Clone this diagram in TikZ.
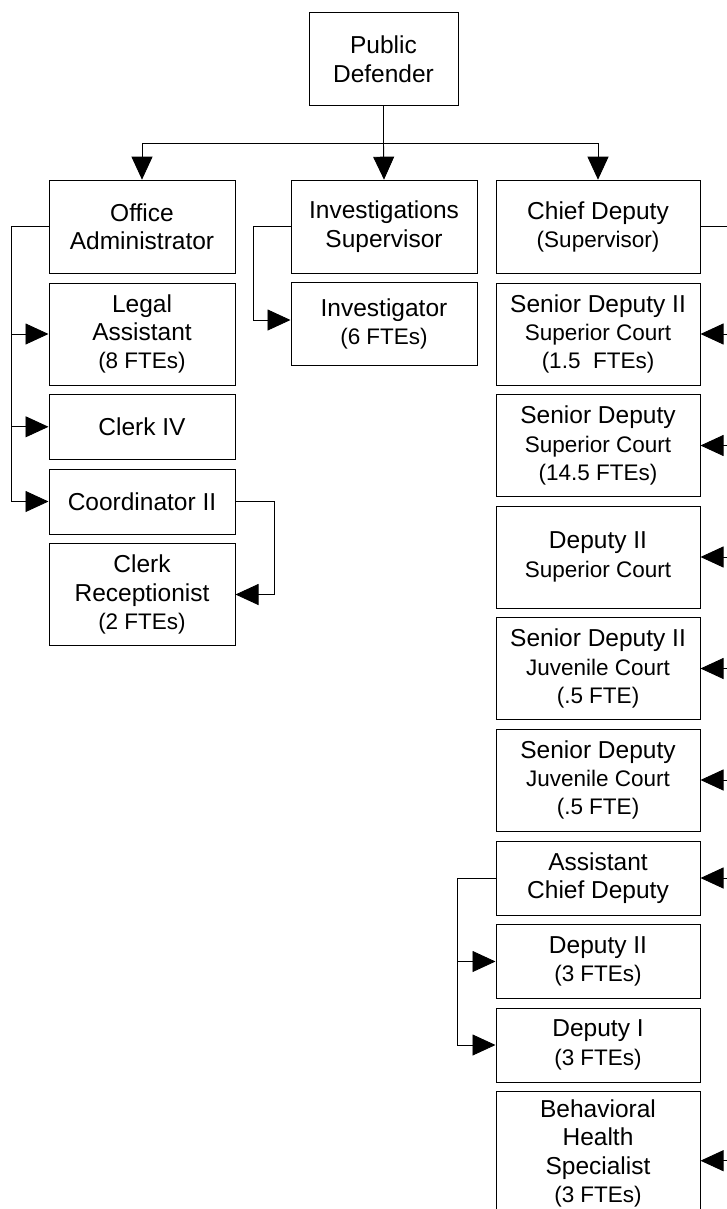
\documentclass[tikz,border=0pt]{standalone}
\usepackage{fontspec}
\setmainfont{Liberation Sans}
\usetikzlibrary{arrows.meta}
\newcommand\smtxt{\fontsize{22.5}{28.3}\selectfont}
\begin{document}
\begin{tikzpicture}[x=1pt,y=-1pt,
  box/.style={draw=black, line width=1pt, fill=white, align=center, inner sep=0pt,
    font=\fontsize{24.5}{28.3}\selectfont},
  conn/.style={line width=0.9pt, black},
  arr/.style={conn, -{Triangle[length=23pt,width=21pt]}}]
\useasboundingbox (0,0) rectangle (727,1209);
\clip (0,0) rectangle (727,1209);
\fill[white] (0,0) rectangle (727,1209);

% top
\node[box, minimum width=149pt, minimum height=93pt] (pd) at (383.5,59.3) {Public\\Defender};
% row 1
\node[box, minimum width=186pt, minimum height=93pt] (oa) at (142,226.7) {Office\\Administrator};
\node[box, minimum width=186pt, minimum height=93pt] (is) at (384,226.7) {Investigations\\Supervisor};
\node[box, minimum width=204pt, minimum height=93pt] (cd) at (598,226.7) {Chief Deputy\\{\smtxt (Supervisor)}};
% left column
\node[box, minimum width=186pt, minimum height=102pt] (la) at (142,334) {Legal\\Assistant\\{\smtxt (8 FTEs)}};
\node[box, minimum width=186pt, minimum height=65pt] (ck) at (142,426.8) {Clerk IV};
\node[box, minimum width=186pt, minimum height=65pt] (co) at (142,501.5) {Coordinator II};
\node[box, minimum width=186pt, minimum height=102pt] (cr) at (142,594.5) {Clerk\\Receptionist\\{\smtxt (2 FTEs)}};
% middle column
\node[box, minimum width=186pt, minimum height=83pt] (inv) at (384,324.3) {Investigator\\{\smtxt (6 FTEs)}};
% right column
\node[box, minimum width=204pt, minimum height=102pt] (sdIIs) at (598,334) {Senior Deputy II\\{\smtxt Superior Court}\\{\smtxt (1.5\ \ FTEs)}};
\node[box, minimum width=204pt, minimum height=102pt] (sds) at (598,445.5) {Senior Deputy\\{\smtxt Superior Court}\\{\smtxt (14.5 FTEs)}};
\node[box, minimum width=204pt, minimum height=102pt] (dIIs) at (598,557) {Deputy II\\{\smtxt Superior Court}};
\node[box, minimum width=204pt, minimum height=102pt] (sdIIj) at (598,668.5) {Senior Deputy II\\{\smtxt Juvenile Court}\\{\smtxt (.5 FTE)}};
\node[box, minimum width=204pt, minimum height=102pt] (sdj) at (598,780) {Senior Deputy\\{\smtxt Juvenile Court}\\{\smtxt (.5 FTE)}};
\node[box, minimum width=204pt, minimum height=74pt] (acd) at (598,878) {Assistant\\Chief Deputy};
\node[box, minimum width=204pt, minimum height=74pt] (dII) at (598,961.5) {Deputy II\\{\smtxt (3 FTEs)}};
\node[box, minimum width=204pt, minimum height=74pt] (dI) at (598,1045) {Deputy I\\{\smtxt (3 FTEs)}};
\node[box, minimum width=204pt, minimum height=125pt] (bhs) at (598,1153.5) {Behavioral\\Health\\Specialist\\{\smtxt (3 FTEs)}};

% connectors from the top
\coordinate (bus) at (383.5,143.3);
\draw[conn] (pd.south) -- (bus);
\draw[arr] (bus) -- (is.north);
\draw[arr] (bus) -| (oa.north);
\draw[arr] (bus) -| (cd.north);

% office administrator
\draw[conn] (oa.west) -- ++(-37.4,0) coordinate (ltop);
\foreach \n in {la,ck,co} \draw[arr] (ltop) |- (\n.west);
% coordinator
\draw[arr] (co.east) -- ++(38.5,0) |- (cr.east);
% investigations
\draw[arr] (is.west) -- ++(-37,0) |- ([yshift=4.3pt]inv.west);
% chief deputy
\draw[conn] (cd.east) -- ++(40,0) coordinate (rtop);
\foreach \n in {sdIIs,sds,dIIs,sdIIj,sdj,acd} \draw[arr] (rtop) |- (\n.east);
\draw[arr] (rtop) |- ([yshift=-7.2pt]bhs.east);
% assistant chief deputy
\draw[conn] (acd.west) -- ++(-37.7,0) coordinate (atop);
\foreach \n in {dII,dI} \draw[arr] (atop) |- (\n.west);
\end{tikzpicture}
\end{document}
